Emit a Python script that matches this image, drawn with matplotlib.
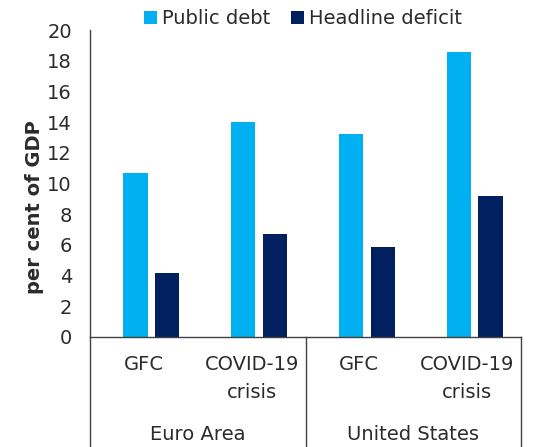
import matplotlib
matplotlib.use("Agg")
import matplotlib.pyplot as plt
import numpy as np

plt.rcParams['font.family'] = ['DejaVu Sans']

# Data
groups = ["Euro Area", "United States"]
periods = ["GFC", "COVID-19\ncrisis", "GFC", "COVID-19\ncrisis"]
public_debt = [10.7, 14.0, 13.2, 18.55]
headline_deficit = [4.2, 6.7, 5.85, 9.2]
series_names = ["Public debt", "Headline deficit"]
yticks = list(range(0, 21, 2))

c_debt = "#00B0F0"
c_def = "#002060"
txt = "#2b2b2b"
FS = 14

W, H = 537, 447
fig = plt.figure(figsize=(W / 100, H / 100), dpi=100)
ax_l, ax_r, ax_b, ax_t = 90, 521, 337, 30
ax = fig.add_axes([ax_l / W, 1 - ax_b / H, (ax_r - ax_l) / W, (ax_b - ax_t) / H])

x = np.arange(len(periods))
bw = 0.225
shift = 0.07
b1 = ax.bar(x - 0.148 + shift, public_debt, bw, color=c_debt, label=series_names[0], zorder=2)
b2 = ax.bar(x + 0.148 + shift, headline_deficit, bw, color=c_def, label=series_names[1], zorder=2)

ax.set_xlim(-0.5, len(periods) - 0.5)
ax.set_ylim(0, 20)
ax.set_yticks(yticks)
ax.set_yticklabels([str(v) for v in yticks], fontsize=FS, color=txt)
ax.tick_params(axis='y', length=0, pad=13)
ax.set_xticks([])
for s in ['top', 'right']:
    ax.spines[s].set_visible(False)
for s in ['left', 'bottom']:
    ax.spines[s].set_color('#404040')
    ax.spines[s].set_linewidth(1.0)

trans = ax.get_xaxis_transform()
hpx = ax_b - ax_t


def ay(py):
    return (ax_b - py) / hpx


# period labels (one text per line)
for i, lab in enumerate(periods):
    for j, ln in enumerate(lab.split("\n")):
        ax.text(i, ay(365 + 27 * j), ln, transform=trans, ha='center', va='center',
                fontsize=FS, color=txt)

# group labels
for g, lab in enumerate(groups):
    ax.text(2 * g + 0.5, ay(435), lab, transform=trans, ha='center', va='center',
            fontsize=FS, color=txt)

# separators
y_bot = ay(H + 2)
for xs in [-0.5, 1.5, 3.5]:
    ax.plot([xs, xs], [0, y_bot], transform=trans, color='#404040', lw=1.0, clip_on=False)

fig.text(35 / W, 1 - 207 / H, "per cent of GDP", rotation=90, ha='center', va='center',
         fontsize=FS, fontweight='bold', color=txt)

fig.legend(handles=[b1, b2], labels=series_names, loc='center', bbox_to_anchor=(303 / W, 1 - 19 / H),
           ncol=2, frameon=False, fontsize=FS, handlelength=0.65, handleheight=0.65,
           handletextpad=0.25, columnspacing=1.1, labelcolor=txt)

fig.savefig("out.png", dpi=100)
